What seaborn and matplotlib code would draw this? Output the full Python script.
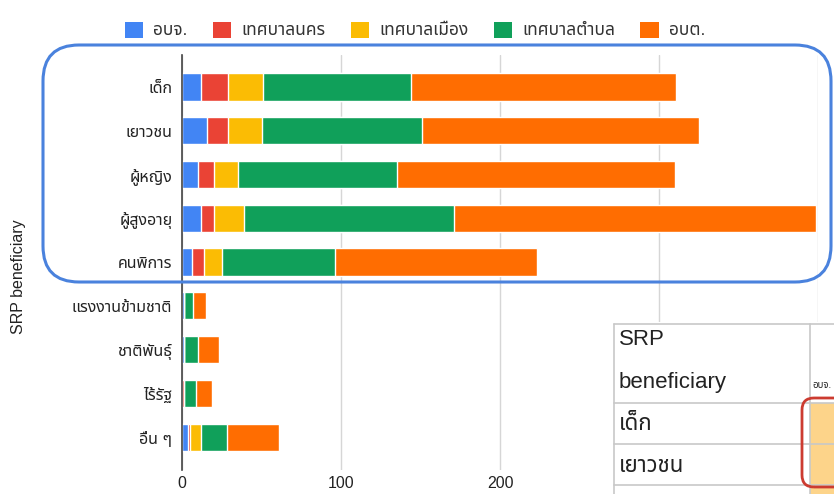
import matplotlib
matplotlib.use("Agg")
import matplotlib.pyplot as plt
import matplotlib.transforms as mtransforms
from matplotlib.patches import Patch, Rectangle, FancyBboxPatch
from matplotlib.lines import Line2D
import pandas as pd
import seaborn as sns

# ข้อมูล (อ่านจากภาพ)
beneficiary = ['เด็ก', 'เยาวชน', 'ผู้หญิง', 'ผู้สูงอายุ', 'คนพิการ',
               'แรงงานข้ามชาติ', 'ชาติพันธุ์', 'ไร้รัฐ', 'อื่น ๆ']
series = ['อบจ.', 'เทศบาลนคร', 'เทศบาลเมือง', 'เทศบาลตำบล', 'อบต.']
pao = [12, 16, 10, 12, 6, 1, 1, 0, 4]
city = [17, 13, 10, 8, 8, 0, 0, 1, 1]
town = [22, 21, 15, 19, 11, 0, 0, 0, 7]
subdistrict = [93, 101, 100, 132, 71, 6, 9, 8, 16]
sao = [167, 174, 175, 228, 127, 8, 13, 10, 33]
colors = ['#4285F4', '#EA4335', '#FBBC04', '#10A05A', '#FF6D01']
xticks = [0, 100, 200, 300, 400]

sns.set_style('white')
plt.rcParams['font.family'] = ['Liberation Sans', 'Noto Sans Thai', 'Loma', 'DejaVu Sans']

df = pd.DataFrame({'beneficiary': beneficiary, series[0]: pao, series[1]: city,
                   series[2]: town, series[3]: subdistrict, series[4]: sao})
cum = df[series].cumsum(axis=1)

W, H = 834, 494
fig = plt.figure(figsize=(W / 100, H / 100), dpi=100)
ax = fig.add_axes([182 / W, (H - 470) / H, (818 - 182) / W, (470 - 55) / H])

# วาดแท่งแบบซ้อน: จากผลรวมมากสุดไปน้อยสุด
for s, c in zip(series[::-1], colors[::-1]):
    sns.barplot(x=cum[s], y=df['beneficiary'], order=beneficiary, color=c,
                saturation=1, width=0.62, orient='h', ax=ax, zorder=3)

ax.set_xlim(0, 400)
ax.set_ylim(8.75, -0.73)
ax.set_xticks(xticks)
ax.set_xticklabels([str(t) for t in xticks])
ax.set_xlabel('')
ax.set_ylabel('')
ax.xaxis.grid(True, color='#d6d6d6', linewidth=1, zorder=0)
ax.yaxis.grid(False)
for sp in ['top', 'right', 'bottom']:
    ax.spines[sp].set_visible(False)
ax.spines['left'].set_color('#444444')
ax.spines['left'].set_linewidth(1.2)
ax.spines['left'].set_zorder(5)
ax.tick_params(axis='both', length=0, labelsize=11.5, labelcolor='#222222')
ax.tick_params(axis='y', pad=7)
ax.tick_params(axis='x', pad=4)

fig.text(19 / W, 1 - 277 / H, 'SRP beneficiary', rotation=90, ha='center',
         va='center', fontsize=11.5, color='#222222')

handles = [Patch(facecolor=c, edgecolor='none') for c in colors]
fig.legend(handles, series, loc='center', bbox_to_anchor=(415 / W, 1 - 30 / H),
           ncol=5, frameon=False, handlelength=1.05, handleheight=1.05,
           handletextpad=0.6, columnspacing=1.45, fontsize=12.5,
           labelcolor='#333333')

# พิกัดเป็นพิกเซล (จุดกำเนิดมุมซ้ายบน)
pix = mtransforms.IdentityTransform()


def py(y):
    return H - y


# กรอบสีน้ำเงินรอบห้ากลุ่มแรก
fig.patches.append(FancyBboxPatch((43, py(282)), 831 - 43, 282 - 45,
                                  boxstyle='round,pad=0,rounding_size=36',
                                  transform=pix, facecolor='none',
                                  edgecolor='#4A82DD', linewidth=2.2, zorder=10))

# ตารางที่ซ้อนอยู่มุมขวาล่าง
fig.patches.append(Rectangle((612, 0), W - 612, py(322), transform=pix,
                             facecolor='white', edgecolor='none', zorder=11))
fig.patches.append(Rectangle((810, 0), W - 810, py(403), transform=pix,
                             facecolor='#FDD48A', edgecolor='none', zorder=11))
line_kw = dict(transform=pix, color='#c8c8c8', linewidth=1.2, zorder=12)
for yy in [324, 403, 444, 485]:
    fig.lines.append(Line2D([614, W], [py(yy), py(yy)], **line_kw))
for xx in [614, 810]:
    fig.lines.append(Line2D([xx, xx], [py(324), 0], **line_kw))

tfam = ['Liberation Sans', 'Noto Sans Thai', 'Loma', 'DejaVu Sans']
tkw = dict(transform=pix, fontsize=16, color='#222222', va='baseline',
           ha='left', family=tfam, zorder=13)
fig.text(619, py(345), 'SRP', **tkw)
fig.text(619, py(388), 'beneficiary', **tkw)
fig.text(619, py(430), 'เด็ก', **tkw)
fig.text(619, py(472), 'เยาวชน', **tkw)
# หัวคอลัมน์ที่สองถูกตัดขอบในภาพต้นฉบับ: ย่อให้พอดีช่อง
tkw.update(fontsize=7)
fig.text(812, py(388), 'อบจ.', **tkw)

fig.patches.append(FancyBboxPatch((802, py(487)), 60, 487 - 398,
                                  boxstyle='round,pad=0,rounding_size=12',
                                  transform=pix, facecolor='none',
                                  edgecolor='#CC3B30', linewidth=2, zorder=14))

fig.savefig('out.png', dpi=100)
